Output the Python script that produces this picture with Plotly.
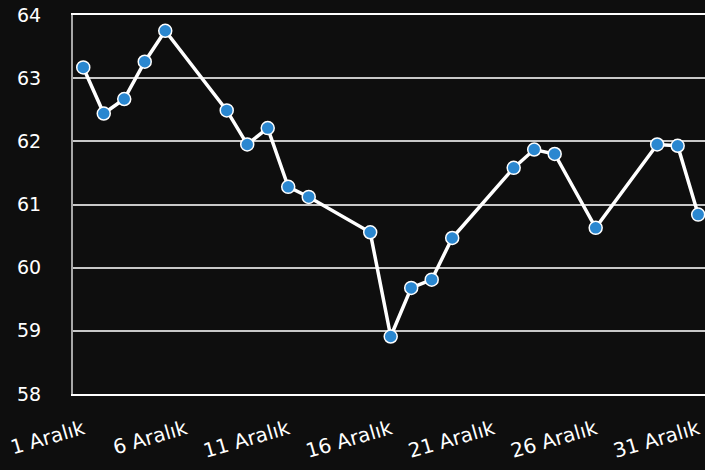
import plotly.graph_objects as go

# işlem günleri (Aralık 2025) ve değerler
dates = [
    "2025-12-01", "2025-12-02", "2025-12-03", "2025-12-04", "2025-12-05",
    "2025-12-08", "2025-12-09", "2025-12-10", "2025-12-11", "2025-12-12",
    "2025-12-15", "2025-12-16", "2025-12-17", "2025-12-18", "2025-12-19",
    "2025-12-22", "2025-12-23", "2025-12-24", "2025-12-26",
    "2025-12-29", "2025-12-30", "2025-12-31",
]
values = [
    63.17, 62.44, 62.67, 63.26, 63.75,
    62.49, 61.95, 62.21, 61.28, 61.12,
    60.56, 58.91, 59.68, 59.81, 60.47,
    61.58, 61.87, 61.80, 60.63,
    61.95, 61.93, 60.84,
]

tick_dates = ["2025-12-01", "2025-12-06", "2025-12-11", "2025-12-16",
              "2025-12-21", "2025-12-26", "2025-12-31"]
tick_labels = ["1 Aralık", "6 Aralık", "11 Aralık", "16 Aralık",
               "21 Aralık", "26 Aralık", "31 Aralık"]

y_ticks = [58, 59, 60, 61, 62, 63, 64]

BG = "#0e0e0e"

fig = go.Figure()

fig.add_trace(
    go.Scatter(
        x=dates,
        y=values,
        mode="lines+markers",
        line=dict(color="white", width=3.5),
        marker=dict(
            size=13,
            color="#2a87d0",
            line=dict(color="white", width=1.5)
        ),
        cliponaxis=False,
        hovertemplate="%{x}<br>%{y:.2f}<extra></extra>"
    )
)

fig.update_layout(
    width=705,
    height=470,
    paper_bgcolor=BG,
    plot_bgcolor=BG,
    showlegend=False,
    font=dict(family="DejaVu Sans, sans-serif", color="white", size=19),
    margin=dict(l=73, r=0, t=15, b=76),

    xaxis=dict(
        type="date",
        range=["2025-11-30 12:00", "2025-12-31 08:00"],
        tickvals=tick_dates,
        ticktext=tick_labels,
        tickangle=-16,
        tickfont=dict(size=20, color="white"),
        showgrid=False,
        showline=True,
        linecolor="white",
        linewidth=2,
        mirror=True,
        ticks="",
        ticklabelstandoff=14,
        zeroline=False,
    ),

    yaxis=dict(
        range=[58, 64],
        tickvals=y_ticks,
        tickfont=dict(size=19, color="white"),
        showgrid=True,
        gridcolor="#c8c8c8",
        gridwidth=1.5,
        showline=True,
        linecolor="#a8a8a8",
        linewidth=2,
        ticks="",
        ticklabelstandoff=26,
        zeroline=False,
    ),
)

# sayfanın varsayılan kenar boşluğunu kaldır
fig.write_html(
    "out.html",
    config={"displayModeBar": False},
    post_script="document.body.style.margin='0';"
                "document.body.style.background='" + BG + "';"
)
